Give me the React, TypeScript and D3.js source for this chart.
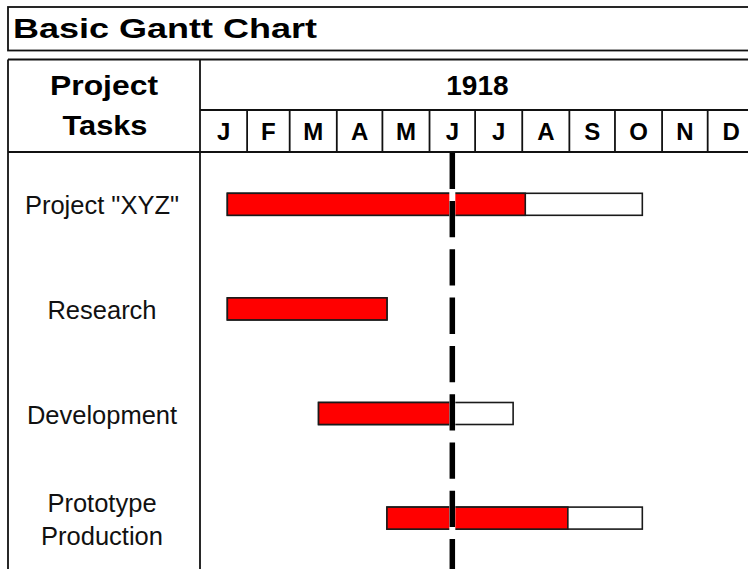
import * as d3 from 'd3';

const title = 'Basic Gantt Chart';
const headerLines = ['Project', 'Tasks'];
const year = '1918';
const monthLabels = ['J', 'F', 'M', 'A', 'M', 'J', 'J', 'A', 'S', 'O', 'N', 'D'];

const taskNames = ['Project "XYZ"', 'Research', 'Development', 'Prototype\nProduction'];
const taskStart = ['1918-01-19', '1918-01-19', '1918-03-20', '1918-05-04'];
const taskEnd = ['1918-10-19', '1918-05-04', '1918-07-26', '1918-10-19'];
const taskDone = ['1918-08-03', '1918-05-04', '1918-06-16', '1918-08-31'];
const today = '1918-06-16';

const W = 748;
const H = 569;
const LEFT = 8;
const COL = 200;
const TOP = 59.5;
const MONTH_TOP = 110;
const BODY_TOP = 152;
const ROW_H = 104.6;
const BAR_H = 22;
const INK = '#111';

export default function App() {
  const parse = d3.timeParse('%Y-%m-%d');
  const yearStart = parse('1918-01-01') as Date;
  const yearEnd = parse('1919-01-01') as Date;
  // 1.52 px per day, so December runs off the right edge
  const x = d3.scaleTime().domain([yearStart, yearEnd]).range([COL, COL + 365 * 1.52]);
  const y = d3
    .scaleBand<string>()
    .domain(taskNames)
    .range([BODY_TOP, BODY_TOP + ROW_H * taskNames.length]);

  const monthStarts = d3.timeMonth.range(yearStart, yearEnd);
  const todayX = x(parse(today) as Date);

  const tasks = taskNames.map((name, i) => ({
    name,
    start: x(parse(taskStart[i]) as Date),
    end: x(parse(taskEnd[i]) as Date),
    done: x(parse(taskDone[i]) as Date),
    cy: (y(name) ?? 0) + y.bandwidth() / 2,
  }));

  return (
    <svg
      width={W}
      height={H}
      style={{ position: 'absolute', left: 0, top: 0, background: '#fff' }}
      fontFamily="'Liberation Sans', Arial, sans-serif"
    >
      {/* title box */}
      <rect x={LEFT} y={7} width={W} height={43.5} fill="none" stroke={INK} strokeWidth={1.8} />
      <text x={13} y={37.7} fontSize={27} fontWeight="bold" textLength={304} lengthAdjust="spacingAndGlyphs">
        {title}
      </text>

      {/* header grid */}
      <g stroke={INK} strokeWidth={1.8}>
        <line x1={LEFT} x2={W + 10} y1={TOP} y2={TOP} />
        <line x1={LEFT} x2={LEFT} y1={TOP} y2={H + 5} />
        <line x1={COL} x2={COL} y1={TOP} y2={H + 5} />
        <line x1={COL} x2={W + 10} y1={MONTH_TOP} y2={MONTH_TOP} />
        <line x1={LEFT} x2={W + 10} y1={BODY_TOP} y2={BODY_TOP} />
        {monthStarts.slice(1).map((m, i) => (
          <line key={i} x1={x(m)} x2={x(m)} y1={MONTH_TOP} y2={BODY_TOP} />
        ))}
      </g>

      <text x={104} y={95} fontSize={28} fontWeight="bold" textAnchor="middle" textLength={108} lengthAdjust="spacingAndGlyphs">
        {headerLines[0]}
      </text>
      <text x={105} y={135} fontSize={28} fontWeight="bold" textAnchor="middle" textLength={85} lengthAdjust="spacingAndGlyphs">
        {headerLines[1]}
      </text>
      <text x={(x.range()[0] + x.range()[1]) / 2} y={95} fontSize={28} fontWeight="bold" textAnchor="middle">
        {year}
      </text>
      {monthStarts.map((m, i) => (
        <text
          key={i}
          x={(x(m) + x(d3.timeMonth.offset(m, 1))) / 2}
          y={140}
          fontSize={24}
          fontWeight="bold"
          textAnchor="middle"
        >
          {monthLabels[i]}
        </text>
      ))}

      {/* task labels */}
      {tasks.map((t, i) => {
        const lines = t.name.split('\n');
        const gap = 33;
        const first = t.cy + 10 - ((lines.length - 1) * gap) / 2;
        return (
          <text key={i} x={104} fontSize={25.5} textAnchor="middle" fill="#111">
            {lines.map((l, j) => (
              <tspan key={j} x={102} y={first + j * gap}>
                {l}
              </tspan>
            ))}
          </text>
        );
      })}

      {/* bars */}
      {tasks.map((t, i) => (
        <g key={i} stroke="#1a1a1a" strokeWidth={1.6}>
          <rect x={t.start} y={t.cy - BAR_H / 2} width={t.end - t.start} height={BAR_H} fill="#fff" />
          <rect x={t.start} y={t.cy - BAR_H / 2} width={t.done - t.start} height={BAR_H} fill="#ff0000" />
        </g>
      ))}
      {tasks
        .filter((t) => t.start < todayX && t.end > todayX)
        .map((t, i) => (
          <rect key={i} x={todayX - 3} y={t.cy - BAR_H / 2 - 1.5} width={6} height={BAR_H + 3} fill="#fff" />
        ))}

      {/* today marker */}
      <line
        x1={todayX}
        x2={todayX}
        y1={BODY_TOP + 0.7}
        y2={H + 10}
        stroke="#000"
        strokeWidth={5.5}
        strokeDasharray="36.3 12"
      />
    </svg>
  );
}
